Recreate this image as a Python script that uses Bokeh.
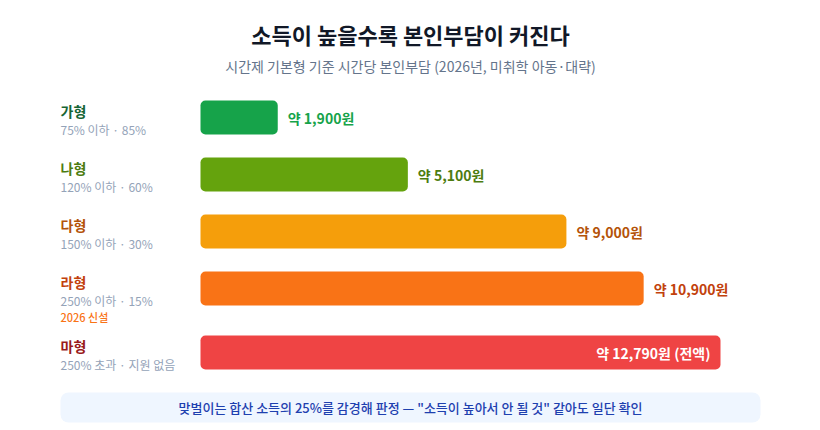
from bokeh.plotting import figure
from bokeh.models import Range1d, ColumnDataSource
from bokeh.core.properties import value
from bokeh.embed import file_html
from bokeh.resources import INLINE

# ---- data ----
types = ["가형", "나형", "다형", "라형", "마형"]
criteria = ["75% 이하 · 85%", "120% 이하 · 60%", "150% 이하 · 30%", "250% 이하 · 15%", "250% 초과 · 지원 없음"]
burden = [1900, 5100, 9000, 10900, 12790]
burden_labels = ["약 1,900원", "약 5,100원", "약 9,000원", "약 10,900원", "약 12,790원 (전액)"]
new_tag = "2026 신설"
title = "소득이 높을수록 본인부담이 커진다"
subtitle = "시간제 기본형 기준 시간당 본인부담 (2026년, 미취학 아동·대략)"
note = "맞벌이는 합산 소득의 25%를 감경해 판정 — \"소득이 높아서 안 될 것\" 같아도 일단 확인"

# ---- styles / layout ----
bar_colors = ["#16a34a", "#65a30d", "#f59e0b", "#f97316", "#ef4444"]
label_colors = ["#166534", "#4d7c0f", "#b45309", "#c2410c", "#991b1b"]
value_colors = ["#16a34a", "#4d7c0f", "#b45309", "#c2410c", "#ffffff"]
row_y = [117, 174, 231, 288, 352]
FONT = value("Noto Sans CJK KR")
FONT_MED = value("Noto Sans CJK KR Medium")

W, H = 812, 428
x0_img, x1_img = 200, 720  # pixel where 0 and max value land
k = (x1_img - x0_img) / max(burden)

p = figure(width=W, height=H, output_backend="svg", toolbar_location=None,
           x_range=Range1d(0, W), y_range=Range1d(H, 0),
           min_border=0, border_fill_color="white", background_fill_color="white")
p.axis.visible = False
p.grid.visible = False
p.outline_line_color = None
p.extra_x_ranges = {"won": Range1d((0 - x0_img) / k, (W - x0_img) / k)}

# title
p.text(x=[410], y=[33], text=[title], text_font=FONT, text_font_size="22px",
       text_font_style="bold", text_color="#111827", text_align="center", text_baseline="middle")
p.text(x=[410], y=[65], text=[subtitle], text_font=FONT, text_font_size="14px",
       text_color="#64748b", text_align="center", text_baseline="middle")

# bars
src = ColumnDataSource(dict(y=row_y, right=burden, color=bar_colors))
p.hbar(y="y", left=0, right="right", height=34, fill_color="color", line_color=None,
       border_radius=5, x_range_name="won", source=src)

# row labels
p.text(x=[60] * 5, y=[r - 7 for r in row_y], text=types, text_font=FONT, text_font_size="14px",
       text_font_style="bold", text_color=label_colors, text_baseline="middle")
p.text(x=[60] * 5, y=[r + 12 for r in row_y], text=criteria, text_font=FONT, text_font_size="12px",
       text_color="#94a3b8", text_baseline="middle")
p.text(x=[60], y=[row_y[3] + 28], text=[new_tag], text_font=FONT_MED, text_font_size="11px",
       text_color="#f97316", text_baseline="middle")

# value labels
out = ColumnDataSource(dict(x=[v * 1.0 for v in burden[:4]], y=row_y[:4], t=burden_labels[:4], c=value_colors[:4]))
p.text(x="x", y="y", text="t", text_color="c", x_offset=10, text_font=FONT, text_font_size="14px",
       text_font_style="bold", text_baseline="middle", x_range_name="won", source=out)
p.text(x=[burden[4]], y=[row_y[4]], text=[burden_labels[4]], text_color=value_colors[4], x_offset=-10,
       text_font=FONT, text_font_size="14px", text_font_style="bold", text_align="right",
       text_baseline="middle", x_range_name="won")

# note box
p.quad(left=[60], right=[760], top=[392], bottom=[422], fill_color="#eff6ff", line_color=None, border_radius=8)
p.text(x=[410], y=[407], text=[note], text_font=FONT_MED, text_font_size="13px",
       text_color="#1e40af", text_align="center", text_baseline="middle")

open("out.html", "w").write(file_html(p, INLINE))
